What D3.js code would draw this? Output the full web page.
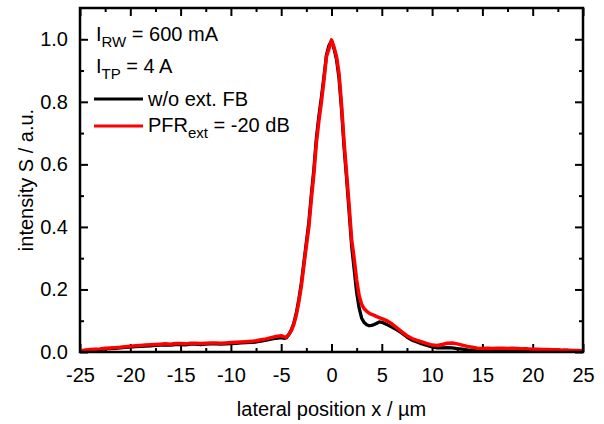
<!DOCTYPE html>
<html><head><meta charset="utf-8">
<script src="https://cdn.jsdelivr.net/npm/d3@7"></script>
<style>
body{margin:0;background:#fff;}
text{font-family:"Liberation Sans",Arial,sans-serif;}
</style></head>
<body><svg id="c" width="604" height="424"></svg>
<script>
const xPos = [
-25,-24.5,-24,-23.5,-23,-22.5,-22,-21.5,-21,-20.5,-20,-19.5,-19,-18.5,-18,-17.5,-17,-16.5,-16,-15.5,
-15,-14.5,-14,-13.5,-13,-12.5,-12,-11.5,-11,-10.5,-10,-9.5,-9,-8.5,-8,-7.5,-7,-6.5,-6,-5.5,
-5,-4.75,-4.5,-4.25,-4,-3.75,-3.5,-3.25,-3,-2.75,-2.5,-2.25,-2,-1.75,-1.5,-1.25,-1,-0.75,-0.5,-0.25,
0,0.25,0.5,0.75,1,1.25,1.5,1.75,2,2.25,2.5,2.75,3,3.25,3.5,3.75,4,4.25,4.5,4.75,5,
5.5,6,6.5,7,7.5,8,8.5,9,9.5,10,10.5,11,11.5,12,12.5,13,13.5,14,14.5,15,
15.5,16,16.5,17,17.5,18,18.5,19,19.5,20,20.5,21,21.5,22,22.5,23,23.5,24,24.5,25];

const noFeedback = [
0.003,0.005,0.006,0.007,0.008,0.010,0.011,0.012,0.013,0.015,0.016,0.017,0.018,0.019,0.020,0.021,0.022,0.023,0.022,0.024,
0.024,0.023,0.025,0.025,0.024,0.025,0.026,0.026,0.025,0.026,0.027,0.028,0.029,0.030,0.031,0.032,0.035,0.038,0.041,0.044,
0.046,0.044,0.045,0.055,0.070,0.092,0.124,0.168,0.220,0.285,0.350,0.415,0.505,0.585,0.685,0.755,0.815,0.880,0.950,0.980,
0.995,0.970,0.935,0.875,0.775,0.655,0.555,0.450,0.340,0.265,0.190,0.140,0.108,0.094,0.087,0.084,0.085,0.088,0.092,0.096,0.095,
0.088,0.080,0.071,0.060,0.048,0.038,0.032,0.026,0.021,0.016,0.013,0.013,0.014,0.013,0.011,0.009,0.007,0.006,0.005,0.005,
0.005,0.004,0.005,0.005,0.004,0.005,0.004,0.004,0.005,0.004,0.004,0.004,0.003,0.004,0.003,0.003,0.004,0.003,0.003,0.003];

const pfr20dB = [
0.004,0.006,0.008,0.009,0.010,0.012,0.013,0.014,0.015,0.017,0.018,0.020,0.021,0.022,0.023,0.024,0.025,0.026,0.025,0.027,
0.027,0.026,0.028,0.028,0.027,0.028,0.029,0.029,0.028,0.029,0.030,0.031,0.032,0.033,0.034,0.036,0.039,0.042,0.046,0.050,
0.052,0.049,0.047,0.056,0.068,0.088,0.118,0.160,0.210,0.275,0.340,0.400,0.490,0.570,0.670,0.740,0.800,0.870,0.945,0.970,
0.998,0.975,0.945,0.890,0.790,0.670,0.570,0.470,0.360,0.300,0.230,0.180,0.152,0.138,0.130,0.124,0.120,0.117,0.113,0.110,0.107,
0.100,0.090,0.077,0.064,0.052,0.043,0.037,0.032,0.027,0.022,0.021,0.024,0.028,0.029,0.026,0.022,0.018,0.015,0.012,0.011,
0.012,0.011,0.012,0.012,0.011,0.012,0.011,0.010,0.010,0.009,0.009,0.008,0.008,0.007,0.007,0.006,0.006,0.005,0.005,0.004];

const xMajorTicks = [-25,-20,-15,-10,-5,0,5,10,15,20,25];
const xMinorTicks = [-22.5,-17.5,-12.5,-7.5,-2.5,2.5,7.5,12.5,17.5,22.5];
const yMajorTicks = [0,0.2,0.4,0.6,0.8,1.0];
const yMinorTicks = [0.1,0.3,0.5,0.7,0.9];

const svg = d3.select("#c");
const L=80, R=583, T=8, B=352;
const x = d3.scaleLinear().domain([-25,25]).range([L,R]);
const y = d3.scaleLinear().domain([0,1.1]).range([B,T]);
const FS = 20;

function styleAxis(g){
  g.select(".domain").remove();
  g.selectAll(".tick line").attr("stroke","#000").attr("stroke-width",2);
  g.selectAll(".tick text").attr("fill","#000").style("font-size",FS+"px").attr("font-family","Liberation Sans, Arial, sans-serif");
}
// bottom
svg.append("g").attr("transform",`translate(0,${B})`)
  .call(d3.axisBottom(x).tickValues(xMajorTicks).tickSize(-8).tickPadding(15.5).tickFormat(d=>String(d))).call(styleAxis);
svg.append("g").attr("transform",`translate(0,${B})`)
  .call(d3.axisBottom(x).tickValues(xMinorTicks).tickSize(-4).tickFormat("")).call(styleAxis);
// top
svg.append("g").attr("transform",`translate(0,${T})`)
  .call(d3.axisTop(x).tickValues(xMajorTicks).tickSize(-8).tickFormat("")).call(styleAxis);
svg.append("g").attr("transform",`translate(0,${T})`)
  .call(d3.axisTop(x).tickValues(xMinorTicks).tickSize(-4).tickFormat("")).call(styleAxis);
// left
svg.append("g").attr("transform",`translate(${L},0)`)
  .call(d3.axisLeft(y).tickValues(yMajorTicks).tickSize(-8).tickPadding(12).tickFormat(d3.format(".1f"))).call(styleAxis);
svg.append("g").attr("transform",`translate(${L},0)`)
  .call(d3.axisLeft(y).tickValues(yMinorTicks).tickSize(-4).tickFormat("")).call(styleAxis);
// right
svg.append("g").attr("transform",`translate(${R},0)`)
  .call(d3.axisRight(y).tickValues(yMajorTicks).tickSize(-8).tickFormat("")).call(styleAxis);
svg.append("g").attr("transform",`translate(${R},0)`)
  .call(d3.axisRight(y).tickValues(yMinorTicks).tickSize(-4).tickFormat("")).call(styleAxis);

const line = d3.line().x((d,i)=>x(xPos[i])).y(d=>y(d));
svg.append("path").datum(noFeedback).attr("d",line).attr("fill","none").attr("stroke","#000").attr("stroke-width",3.3).attr("stroke-linejoin","round");
svg.append("path").datum(pfr20dB).attr("d",line).attr("fill","none").attr("stroke","#ff0000").attr("stroke-width",3.5).attr("stroke-linejoin","round");

// frame
svg.append("rect").attr("x",L).attr("y",T).attr("width",R-L).attr("height",B-T)
  .attr("fill","none").attr("stroke","#000").attr("stroke-width",2.5);

// axis titles
svg.append("text").attr("x",(L+R)/2).attr("y",416).attr("text-anchor","middle").style("font-size",FS+"px").text("lateral position x / µm");
svg.append("text").attr("transform",`translate(33,${(T+B)/2}) rotate(-90)`).attr("text-anchor","middle").style("font-size",FS+"px").text("intensity S / a.u.");

// annotations & legend
const SUB = 15;
function subText(xp, yp, main, sub, rest){
  const t = svg.append("text").attr("x",xp).attr("y",yp).style("font-size",FS+"px");
  t.append("tspan").text(main);
  t.append("tspan").attr("dy",6).style("font-size",SUB+"px").text(sub);
  t.append("tspan").attr("dy",-6).text(rest);
}
subText(96,41,"I","RW"," = 600 mA");
subText(96,73,"I","TP"," = 4 A");
svg.append("line").attr("x1",94).attr("x2",143).attr("y1",99).attr("y2",99).attr("stroke","#000").attr("stroke-width",3);
svg.append("text").attr("x",148).attr("y",106).style("font-size",FS+"px").text("w/o ext. FB");
svg.append("line").attr("x1",94).attr("x2",143).attr("y1",126).attr("y2",126).attr("stroke","#ff0000").attr("stroke-width",3);
subText(148,132,"PFR","ext"," = -20 dB");
</script></body></html>
